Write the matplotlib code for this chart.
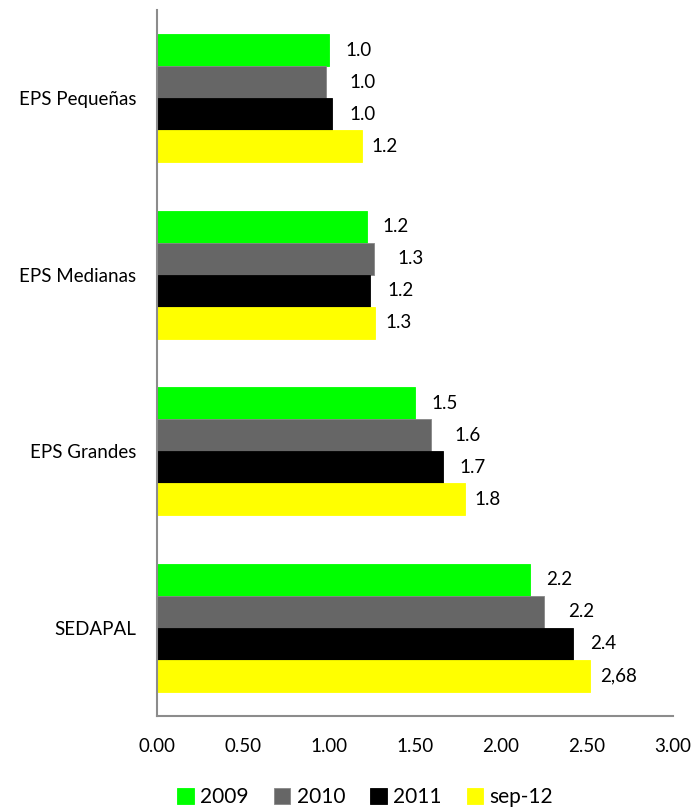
import matplotlib.pyplot as plt
import numpy as np

plt.rcParams['font.family'] = ['Lato', 'DejaVu Sans']

categories = ["EPS Pequeñas", "EPS Medianas", "EPS Grandes", "SEDAPAL"]
series = ["2009", "2010", "2011", "sep-12"]
colors = ["#00ff00", "#666666", "#000000", "#ffff00"]

# values per series, in category order
v2009 = [1.00, 1.22, 1.50, 2.17]
v2010 = [0.98, 1.26, 1.59, 2.25]
v2011 = [1.02, 1.24, 1.66, 2.42]
vsep12 = [1.19, 1.27, 1.79, 2.52]
values = [v2009, v2010, v2011, vsep12]

# labels as printed on the chart
l2009 = ["1.0", "1.2", "1.5", "2.2"]
l2010 = ["1.0", "1.3", "1.6", "2.2"]
l2011 = ["1.0", "1.2", "1.7", "2.4"]
lsep12 = ["1.2", "1.3", "1.8", "2,68"]
labels = [l2009, l2010, l2011, lsep12]

xticks = [0.0, 0.5, 1.0, 1.5, 2.0, 2.5, 3.0]

fig = plt.figure(figsize=(6.97, 8.09), dpi=100)
ax = fig.add_axes([0.2253, 0.115, 0.7403, 0.8726])

n = len(categories)
bar_h = 0.181
ypos = np.arange(n)
label_dx = [16, 24, 17, 10]  # px offsets of value labels per series

for i, (vals, lab) in enumerate(zip(values, labels)):
    y = ypos + (i - 1.5) * bar_h
    ax.barh(y, vals, height=bar_h, color=colors[i], label=series[i],
            edgecolor="#888888" if i == 1 else colors[i], linewidth=0.6)
    for yy, v, t in zip(y, vals, lab):
        ax.annotate(t, (v, yy), xytext=(label_dx[i], 0), textcoords="offset pixels",
                    va="center", ha="left", fontsize=13.5)

ax.set_ylim(n - 0.5, -0.5)
ax.set_xlim(0, 3.0)
ax.set_yticks(ypos)
ax.set_yticklabels(categories, fontsize=13.5)
ax.set_xticks(xticks)
ax.set_xticklabels(["%.2f" % x for x in xticks], fontsize=13.5)
ax.tick_params(axis="both", length=0)
ax.tick_params(axis="x", pad=16)
ax.tick_params(axis="y", pad=15)

for s in ["top", "right"]:
    ax.spines[s].set_visible(False)
for s in ["left", "bottom"]:
    ax.spines[s].set_color("#8c8c8c")
    ax.spines[s].set_linewidth(1.5)

fig.legend(loc="center", bbox_to_anchor=(0.524, 0.015), ncol=4, frameon=False,
           fontsize=15, handlelength=0.8, handleheight=0.8, handletextpad=0.3,
           columnspacing=1.2, borderaxespad=0)

fig.savefig("out.png", dpi=100)
